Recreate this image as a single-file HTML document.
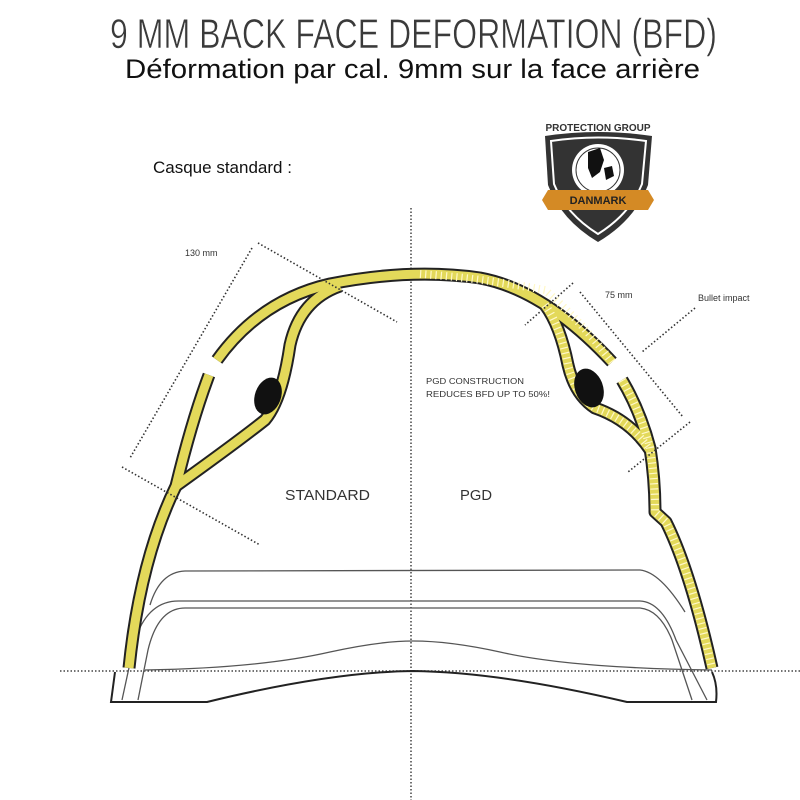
<!DOCTYPE html>
<html><head><meta charset="utf-8"><style>html,body{margin:0;padding:0;background:#fff}svg{display:block}</style></head>
<body>
<svg width="800" height="800" viewBox="0 0 800 800" xmlns="http://www.w3.org/2000/svg">
<rect width="800" height="800" fill="#fff"/>
<text x="110" y="48" font-family="Liberation Sans, sans-serif" font-size="42" fill="#3a3a3a" textLength="607" lengthAdjust="spacingAndGlyphs" stroke="#fff" stroke-width="0.6">9 MM BACK FACE DEFORMATION (BFD)</text>
<text x="125" y="78" font-family="Liberation Sans, sans-serif" font-size="27" fill="#111" textLength="575" lengthAdjust="spacingAndGlyphs">Déformation par cal. 9mm sur la face arrière</text>
<text x="153" y="173" font-family="Liberation Sans, sans-serif" font-size="17" fill="#111">Casque standard :</text>

<!-- logo -->
<text x="598" y="131" text-anchor="middle" font-family="Liberation Sans, sans-serif" font-weight="bold" font-size="10" fill="#333">PROTECTION GROUP</text>
<path d="M545,136 Q598,128 652,136 L648,185 Q635,220 598,242 Q561,220 548,185 Z" fill="#333"/>
<path d="M551,141 Q598,134 646,141 L642,184 Q630,214 598,234 Q566,214 554,184 Z" fill="none" stroke="#fff" stroke-width="2"/>
<circle cx="598" cy="170" r="26" fill="#fff"/>
<circle cx="598" cy="170" r="22" fill="#fff" stroke="#333" stroke-width="1"/>
<path d="M588,152 L600,148 L604,160 L600,172 L592,178 L588,168 Z M604,168 L612,166 L614,176 L606,180 Z" fill="#111"/>
<path d="M548,190 L648,190 L654,200 L648,210 L548,210 L542,200 Z" fill="#d48a25"/>
<text x="598" y="204" text-anchor="middle" font-family="Liberation Sans, sans-serif" font-weight="bold" font-size="11" fill="#222">DANMARK</text>

<!-- axes -->
<line x1="411" y1="208" x2="411" y2="800" stroke="#444" stroke-width="1.5" stroke-dasharray="1.5 2"/>
<line x1="60" y1="671" x2="800" y2="671" stroke="#444" stroke-width="1.5" stroke-dasharray="1.5 2"/>

<!-- liner lines -->
<g fill="none" stroke="#555" stroke-width="1.3">
<path d="M150,605 Q160,572 185,571 L640,570 Q660,572 685,612"/>
<path d="M122,700 L135,640 Q148,600 180,601 L640,601 Q662,602 676,640 L707,700"/>
<path d="M138,700 L148,650 Q158,608 185,608 L640,608 Q660,610 672,640 L692,700"/>
<path d="M145,670 Q260,668 330,652 Q380,641 413,641 Q450,641 500,652 Q570,668 712,670"/>
</g>
<path d="M115,672 L111,702 L207,702 Q330,672 413,671 Q500,672 627,702 L716,702 Q718,685 712,672" fill="none" stroke="#222" stroke-width="2"/>

<!-- shell: black outlines -->
<g fill="none" stroke="#222" stroke-width="13" stroke-linejoin="round">
<path d="M129,668 Q140,560 176,486 Q192,420 209,375"/>
<path d="M217,360 Q260,300 330,284 Q410,268 480,278 Q545,290 612,362"/>
<path d="M176,486 Q240,440 265,420 Q282,400 290,345 Q300,300 340,286"/>
<path d="M622,380 Q640,410 650,448 Q655,480 655,512 L666,522 Q690,570 712,668"/>
<path d="M545,305 Q560,325 568,365 Q575,395 595,408 Q630,420 650,450"/>
</g>
<g fill="none" stroke="#e3d95a" stroke-width="9" stroke-linejoin="round">
<path d="M129,668 Q140,560 176,486 Q192,420 209,375"/>
<path d="M217,360 Q260,300 330,284 Q410,268 480,278 Q545,290 612,362"/>
<path d="M176,486 Q240,440 265,420 Q282,400 290,345 Q300,300 340,286"/>
<path d="M622,380 Q640,410 650,448 Q655,480 655,512 L666,522 Q690,570 712,668"/>
<path d="M545,305 Q560,325 568,365 Q575,395 595,408 Q630,420 650,450"/>
</g>
<!-- PGD stripes -->
<g fill="none" stroke="#fff8c8" stroke-width="8" stroke-dasharray="1.2 4">
<path d="M420,274 Q480,278 545,290 Q580,320 612,362"/>
<path d="M622,380 Q640,410 650,448 Q655,480 655,512 L666,522 Q690,570 712,668"/>
<path d="M545,305 Q560,325 568,365 Q575,395 595,408 Q630,420 650,450"/>
</g>
<ellipse cx="268" cy="396" rx="13" ry="19" transform="rotate(20 268 396)" fill="#111"/>
<ellipse cx="589" cy="388" rx="14" ry="20" transform="rotate(-20 589 388)" fill="#111"/>

<!-- dimension lines -->
<g stroke="#333" stroke-width="1.6" stroke-dasharray="1.5 2.2" fill="none">
<line x1="258" y1="243" x2="397" y2="322"/>
<line x1="252" y1="248" x2="130" y2="458"/>
<line x1="122" y1="467" x2="260" y2="545"/>
<line x1="573" y1="283" x2="525" y2="325"/>
<line x1="580" y1="292" x2="683" y2="417"/>
<line x1="690" y1="422" x2="628" y2="472"/>
<line x1="695" y1="308" x2="642" y2="352"/>
</g>
<g font-family="Liberation Sans, sans-serif" fill="#333">
<text x="185" y="256" font-size="9">130 mm</text>
<text x="605" y="298" font-size="9">75 mm</text>
<text x="698" y="301" font-size="9">Bullet impact</text>
<text x="426" y="384" font-size="8.5" textLength="98" lengthAdjust="spacingAndGlyphs">PGD CONSTRUCTION</text>
<text x="426" y="397" font-size="8.5" textLength="124" lengthAdjust="spacingAndGlyphs">REDUCES BFD UP TO 50%!</text>
<text x="285" y="500" font-size="15" textLength="85" lengthAdjust="spacingAndGlyphs">STANDARD</text>
<text x="460" y="500" font-size="15" textLength="32" lengthAdjust="spacingAndGlyphs">PGD</text>
</g>
</svg>
</body></html>
